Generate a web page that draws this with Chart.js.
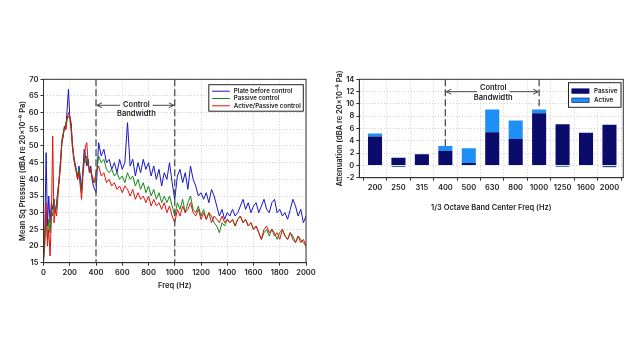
<!DOCTYPE html>
<html>
<head>
<meta charset="utf-8">
<script src="https://cdn.jsdelivr.net/npm/chart.js@4.4.1/dist/chart.umd.min.js"></script>
<style>
  html, body { margin: 0; padding: 0; background: #fff; }
  #wrap { position: relative; width: 642px; height: 361px; }
  canvas { position: absolute; top: 0; }
</style>
</head>
<body>
<div id="wrap">
  <canvas id="spec" width="321" height="361" style="left:0"></canvas>
  <canvas id="atten" width="321" height="361" style="left:321px"></canvas>
</div>
<script>
// ---- left panel: narrowband spectra (Hz, dBA) ----
const FREQ = [
  0, 10, 20, 30, 40, 50, 60, 70, 80, 90, 100, 110, 120, 130, 140, 150, 160, 170, 180, 190,
  200, 210, 220, 230, 240, 250, 260, 270, 280, 290, 300, 310, 320, 330, 340, 350, 360, 370, 380, 390, 400,
  420, 440, 460, 480, 500, 520, 540, 560, 580, 600, 620, 640, 660, 680, 700, 720, 740, 760, 780, 800,
  820, 840, 860, 880, 900, 920, 940, 960, 980, 1000, 1020, 1040, 1060, 1080, 1100, 1120, 1140, 1160, 1180, 1200,
  1220, 1240, 1260, 1280, 1300, 1320, 1340, 1360, 1380, 1400, 1420, 1440, 1460, 1480, 1500, 1520, 1540, 1560, 1580, 1600,
  1620, 1640, 1660, 1680, 1700, 1720, 1740, 1760, 1780, 1800, 1820, 1840, 1860, 1880, 1900, 1920, 1940, 1960, 1980, 2000,
];

const PLATE_BEFORE = [
  17, 24, 48, 26, 35, 27, 33, 31, 34, 30, 33, 37, 40, 46, 51, 53, 56, 55, 61, 67,
  59, 57, 51, 47, 45, 43, 40, 44, 41, 37, 43, 49, 47, 44, 46, 42, 44, 40, 38, 37, 36,
  51, 47, 49, 45, 46, 43, 45, 42, 46, 43, 45, 57, 44, 46, 41, 45, 42, 46, 43, 45,
  41, 44, 40, 43, 38, 42, 40, 45, 39, 34, 41, 43, 39, 42, 37, 44, 40, 38, 35, 36,
  34, 36, 33, 37, 35, 32, 29, 31, 28, 30, 29, 31, 29, 30, 32, 34, 31, 33, 30, 32,
  33, 30, 32, 34, 31, 30, 33, 34, 30, 31, 29, 30, 28, 31, 34, 32, 29, 31, 27, 29,
];

const PASSIVE_CTRL = [
  15, 20, 30, 22, 28, 24, 31, 29, 34, 30, 32, 36, 41, 45, 52, 54, 55, 57, 58, 59,
  58, 55, 50, 47, 44, 43, 41, 43, 39, 36, 42, 46, 45, 47, 44, 43, 42, 41, 40, 39, 41,
  47, 45, 46, 43, 42, 43, 41, 42, 40, 41, 39, 42, 40, 41, 38, 40, 37, 39, 36, 38,
  35, 37, 34, 36, 33, 35, 33, 35, 32, 29, 33, 31, 34, 30, 33, 35, 31, 30, 32, 29,
  31, 28, 30, 29, 27, 26, 24, 27, 26, 28, 27, 28, 26, 28, 29, 27, 28, 26, 27, 25,
  26, 24, 22, 24, 25, 23, 25, 24, 22, 24, 25, 23, 22, 24, 23, 21, 23, 22, 21, 20,
];

const ACTIVE_PASSIVE_CTRL = [
  16, 23, 33, 20, 25, 17, 28, 53, 27, 31, 29, 35, 40, 44, 51, 53, 56, 55, 58, 60,
  59, 56, 50, 46, 44, 42, 40, 42, 38, 34, 41, 45, 50, 51, 45, 42, 43, 41, 39, 40, 42,
  44, 41, 42, 39, 40, 38, 39, 37, 38, 36, 38, 37, 35, 37, 34, 36, 34, 35, 33, 35,
  32, 34, 32, 33, 31, 33, 30, 32, 29, 27, 31, 29, 32, 30, 31, 33, 30, 29, 31, 28,
  30, 28, 30, 27, 29, 28, 27, 29, 27, 28, 27, 28, 26, 28, 29, 27, 28, 26, 27, 25,
  26, 24, 22, 25, 26, 24, 25, 23, 24, 22, 25, 23, 22, 24, 22, 21, 23, 21, 22, 20,
];

// ---- right panel: 1/3 octave band attenuation ----
const BANDS = ['200', '250', '315', '400', '500', '630', '800', '1000', '1250', '1600', '2000'];
const PASSIVE_ATT = [4.7, 1.25, 1.8, 2.35, 0.4, 5.4, 4.3, 8.5, 6.7, 5.3, 6.6];
const ACTIVE_ATT = [0.5, -0.3, 0, 0.8, 2.4, 3.7, 3.0, 0.6, -0.25, 0, -0.35];

const CTRL_BAND = [400, 1000];   // Hz
const CTRL_BAND_IDX = [3, 7];    // band index

const BLUE = '#1717c4';
const GREEN = '#178a17';
const RED = '#e3120c';
const NAVY = '#0b0b6c';
const LIGHT = '#1e8ff5';
const INK = '#1c1c1c';
const FONT = "Inter, 'Open Sans', sans-serif";

Chart.defaults.font.family = FONT;
Chart.defaults.font.size = 7.5;
Chart.defaults.font.weight = '600';
Chart.defaults.color = INK;

const tickFont = { size: 7.5, weight: '600' };
const titleFont = { size: 7.5, weight: '600' };

function gridOpts() {
  return {
    color: '#c4c4c4', lineWidth: 0.8, drawTicks: true, tickLength: 3,
    tickColor: '#333', tickWidth: 1, tickBorderDash: [],
  };
}
const borderOpts = { color: '#333', width: 1, dash: [1, 2] };

// box round the plot area
const frame = {
  id: 'frame',
  afterDatasetsDraw(chart) {
    const { ctx, chartArea: a } = chart;
    ctx.save();
    ctx.strokeStyle = '#333';
    ctx.lineWidth = 1;
    ctx.strokeRect(a.left, a.top, a.right - a.left, a.bottom - a.top);
    ctx.restore();
  },
};

function bandArrow(ctx, x0, x1, y, lineY1, lineY2) {
  ctx.save();
  ctx.font = `600 7.5px ${FONT}`;
  ctx.fillStyle = INK;
  ctx.strokeStyle = '#333';
  ctx.lineWidth = 0.9;
  ctx.textAlign = 'center';
  ctx.textBaseline = 'middle';
  const mid = (x0 + x1) / 2 + 1;
  const w = ctx.measureText('Control').width;
  ctx.fillText('Control', mid, lineY1);
  ctx.fillText('Bandwidth', mid, lineY2);
  ctx.beginPath();
  ctx.moveTo(x0 + 1, y); ctx.lineTo(mid - w / 2 - 3, y);
  ctx.moveTo(mid + w / 2 + 3, y); ctx.lineTo(x1 - 1, y);
  ctx.moveTo(x0 + 6, y - 2.5); ctx.lineTo(x0 + 1, y); ctx.lineTo(x0 + 6, y + 2.5);
  ctx.moveTo(x1 - 6, y - 2.5); ctx.lineTo(x1 - 1, y); ctx.lineTo(x1 - 6, y + 2.5);
  ctx.stroke();
  ctx.restore();
}

function dashedV(ctx, x, y0, y1) {
  ctx.save();
  ctx.strokeStyle = '#505050';
  ctx.lineWidth = 1.3;
  ctx.setLineDash([7, 3]);
  ctx.beginPath();
  ctx.moveTo(x, y0);
  ctx.lineTo(x, y1);
  ctx.stroke();
  ctx.restore();
}

const specDecor = {
  id: 'specDecor',
  afterDatasetsDraw(chart) {
    const { ctx, chartArea: a, scales: { x } } = chart;
    const xa = x.getPixelForValue(CTRL_BAND[0]);
    const xb = x.getPixelForValue(CTRL_BAND[1]);
    dashedV(ctx, xa, a.top, a.bottom);
    dashedV(ctx, xb, a.top, a.bottom);
    bandArrow(ctx, xa, xb, a.top + 26, a.top + 25, a.top + 34.5);

    // legend
    const items = [['Plate before control', BLUE], ['Passive control', GREEN], ['Active/Passive control', RED]];
    const bw = 94.5, bh = 26.5;
    const bx = a.right - 2.7 - bw, by = a.top + 5.4;
    ctx.save();
    ctx.fillStyle = '#fff';
    ctx.fillRect(bx, by, bw, bh);
    ctx.strokeStyle = '#222';
    ctx.lineWidth = 1;
    ctx.strokeRect(bx, by, bw, bh);
    ctx.font = `600 6.2px ${FONT}`;
    ctx.textBaseline = 'middle';
    items.forEach(([txt, col], i) => {
      const yy = by + 6.5 + i * 7.3;
      ctx.strokeStyle = col;
      ctx.lineWidth = 1;
      ctx.beginPath();
      ctx.moveTo(bx + 3.3, yy); ctx.lineTo(bx + 21, yy);
      ctx.stroke();
      ctx.fillStyle = INK;
      ctx.fillText(txt, bx + 25, yy, bw - 27);
    });
    ctx.restore();
  },
};

const attenDecor = {
  id: 'attenDecor',
  afterDatasetsDraw(chart) {
    const { ctx, chartArea: a, scales: { x, y } } = chart;
    const [ia, ib] = CTRL_BAND_IDX;
    const topOf = (i) => y.getPixelForValue(PASSIVE_ATT[i] + Math.max(ACTIVE_ATT[i], 0));
    const xa = x.getPixelForValue(ia), xb = x.getPixelForValue(ib);
    dashedV(ctx, xa, a.top, topOf(ia));
    dashedV(ctx, xb, a.top, topOf(ib));
    bandArrow(ctx, xa, xb, a.top + 12.4, a.top + 8.5, a.top + 18);

    // legend
    const items = [['Passive', NAVY], ['Active', LIGHT]];
    const bw = 52.5, bh = 24.6;
    const bx = a.right - 2.3 - bw, by = a.top + 3.4;
    ctx.save();
    ctx.fillStyle = '#fff';
    ctx.fillRect(bx, by, bw, bh);
    ctx.strokeStyle = '#222';
    ctx.lineWidth = 1;
    ctx.strokeRect(bx, by, bw, bh);
    ctx.font = `600 6.3px ${FONT}`;
    ctx.textBaseline = 'middle';
    items.forEach(([txt, col], i) => {
      const yy = by + 8.4 + i * 9.2;
      ctx.fillStyle = col;
      ctx.fillRect(bx + 3.3, yy - 2.3, 17.3, 4.6);
      ctx.strokeStyle = NAVY;
      ctx.lineWidth = 0.6;
      ctx.strokeRect(bx + 3.3, yy - 2.3, 17.3, 4.6);
      ctx.fillStyle = INK;
      ctx.fillText(txt, bx + 25.5, yy);
    });
    ctx.restore();
  },
};

const lineSet = (label, values, color, order) => ({
  label,
  data: FREQ.map((f, i) => ({ x: f, y: values[i] })),
  borderColor: color,
  borderWidth: 1,
  pointRadius: 0,
  tension: 0,
  order,
});

new Chart(document.getElementById('spec'), {
  type: 'line',
  data: {
    datasets: [
      lineSet('Plate before control', PLATE_BEFORE, BLUE, 2),
      lineSet('Passive control', PASSIVE_CTRL, GREEN, 1),
      lineSet('Active/Passive control', ACTIVE_PASSIVE_CTRL, RED, 0),
    ],
  },
  options: {
    responsive: false,
    animation: false,
    layout: { padding: { left: 18, right: 15, top: 79.3, bottom: 71.2 } },
    plugins: { legend: { display: false }, tooltip: { enabled: false } },
    scales: {
      x: {
        type: 'linear', min: 0, max: 2000,
        ticks: { stepSize: 200, padding: 3, font: tickFont, maxRotation: 0, callback: (v) => String(v) },
        grid: gridOpts(), border: borderOpts,
        title: { display: true, text: 'Freq (Hz)', font: titleFont, padding: { top: 0, bottom: 0 } },
        afterFit: (s) => { s.height = 27.1; },
      },
      y: {
        min: 15, max: 70,
        ticks: { stepSize: 5, padding: 2, font: tickFont },
        grid: gridOpts(), border: borderOpts,
        title: { display: true, text: 'Mean Sq Pressure (dBA re 20x10⁻⁶ Pa)', font: titleFont, padding: { top: 0, bottom: 0 } },
        afterFit: (s) => { s.width = 25.5; },
      },
    },
  },
  plugins: [frame, specDecor],
});

// a negative "active" value sits under a passive bar: dark fill, light bottom edge
const activeFill = (c) => (c.raw && c.raw.y < 0 ? NAVY : LIGHT);

new Chart(document.getElementById('atten'), {
  type: 'bar',
  data: {
    datasets: [
      { label: 'Passive', data: PASSIVE_ATT.map((v, i) => ({ x: i, y: v })), backgroundColor: NAVY },
      {
        label: 'Active', data: ACTIVE_ATT.map((v, i) => ({ x: i, y: v })),
        backgroundColor: activeFill,
        borderColor: LIGHT,
        borderWidth: (c) => (c.raw && c.raw.y < 0 ? { top: 0, left: 0, right: 0, bottom: 1 } : 0),
        borderSkipped: false,
      },
    ],
  },
  options: {
    responsive: false,
    animation: false,
    barPercentage: 0.6,
    categoryPercentage: 1.0,
    layout: { padding: { left: 14, right: 18.7, top: 79.3, bottom: 148.9 } },
    plugins: { legend: { display: false }, tooltip: { enabled: false } },
    scales: {
      x: {
        type: 'linear', min: -0.67, max: 10.59, stacked: true, offset: false,
        afterBuildTicks: (s) => { s.ticks = BANDS.map((_, i) => ({ value: i })); },
        ticks: { padding: 3, font: tickFont, maxRotation: 0, autoSkip: false, callback: (v) => BANDS[v] ?? '' },
        grid: gridOpts(), border: borderOpts,
        title: { display: true, text: '1/3 Octave Band Center Freq (Hz)', font: titleFont, padding: { top: 0, bottom: 0 } },
        afterFit: (s) => { s.height = 34.4; },
      },
      y: {
        min: -2, max: 14, stacked: true,
        ticks: { stepSize: 2, padding: 2, font: tickFont },
        grid: gridOpts(), border: borderOpts,
        title: { display: true, text: 'Attenuation (dBA re 20x10⁻⁶ Pa)', font: titleFont, padding: { top: 0, bottom: 0 } },
        afterFit: (s) => { s.width = 24.3; },
      },
    },
  },
  plugins: [frame, attenDecor],
});
</script>
</body>
</html>
